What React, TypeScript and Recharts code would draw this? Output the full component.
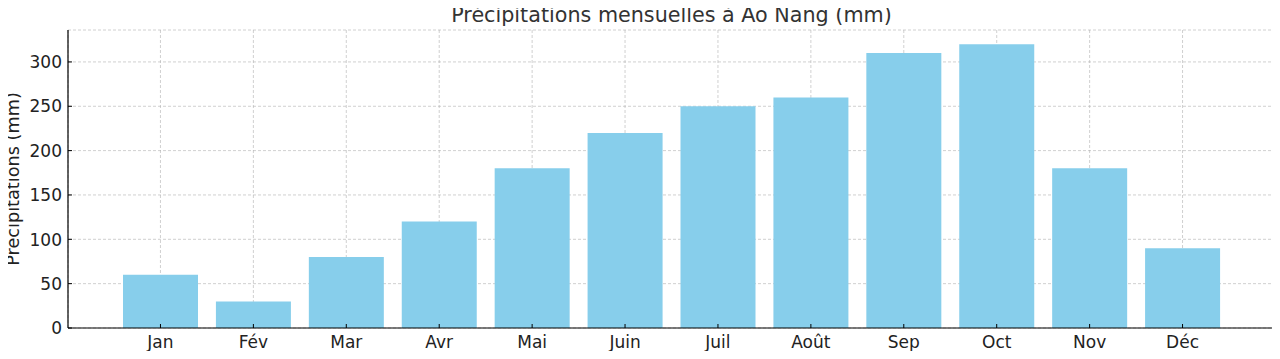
import React from 'react';
import { BarChart, Bar, XAxis, YAxis, CartesianGrid, Label } from 'recharts';

const months = ['Jan', 'Fév', 'Mar', 'Avr', 'Mai', 'Juin', 'Juil', 'Août', 'Sep', 'Oct', 'Nov', 'Déc'];
const rainfall = [60, 30, 80, 120, 180, 220, 250, 260, 310, 320, 180, 90];
const yTicks = [0, 50, 100, 150, 200, 250, 300];

const data = months.map((m, i) => ({ month: m, rain: rainfall[i] }));

const FONT = '"DejaVu Sans", sans-serif';

function XTick(props: any) {
  const { x, y, payload } = props;
  return (
    <g>
      <line x1={x} x2={x} y1={y} y2={y - 4} stroke="#000" strokeWidth={1} />
      <text x={x} y={y} dy={20} textAnchor="middle" fontSize={17} fontFamily={FONT} fill="#222">
        {payload.value}
      </text>
    </g>
  );
}

function YTick(props: any) {
  const { x, y, payload } = props;
  return (
    <g>
      <line x1={x} x2={x + 4} y1={y} y2={y} stroke="#000" strokeWidth={1} />
      <text x={x - 6} y={y} dy={6.2} textAnchor="end" fontSize={17} fontFamily={FONT} fill="#222">
        {payload.value}
      </text>
    </g>
  );
}

export default function App() {
  return (
    <div style={{ margin: -8, width: 1280, height: 359, background: '#fff' }}>
      <BarChart
        width={1280}
        height={359}
        data={data}
        margin={{ top: 30, right: 5, bottom: 0, left: 0 }}
      >
        <Bar dataKey="rain" fill="#87CEEB" barSize={75} isAnimationActive={false} />
        <CartesianGrid stroke="#b0b0b0" strokeOpacity={0.6} strokeDasharray="3 2" />
        <XAxis
          dataKey="month"
          height={31}
          padding={{ left: 46, right: 46 }}
          axisLine={{ stroke: '#000', strokeWidth: 1.2 }}
          tickLine={false}
          tickSize={0}
          tickMargin={0}
          tick={<XTick />}
          interval={0}
        >
          <Label
            content={() => (
              <text
                x={671.5}
                y={22}
                textAnchor="middle"
                fontSize={20.7}
                fontFamily={FONT}
                fill="#333"
              >
                Précipitations mensuelles à Ao Nang (mm)
              </text>
            )}
          />
        </XAxis>
        <YAxis
          width={68}
          domain={[0, 336]}
          ticks={yTicks}
          axisLine={{ stroke: '#000', strokeWidth: 1.2 }}
          tickLine={false}
          tickSize={0}
          tickMargin={0}
          tick={<YTick />}
          allowDataOverflow
        >
          <Label
            content={() => (
              <text
                x={18.5}
                y={179}
                transform="rotate(-90 18.5 179)"
                textAnchor="middle"
                fontSize={17.7}
                fontFamily={FONT}
                fill="#222"
              >
                Précipitations (mm)
              </text>
            )}
          />
        </YAxis>
      </BarChart>
    </div>
  );
}
